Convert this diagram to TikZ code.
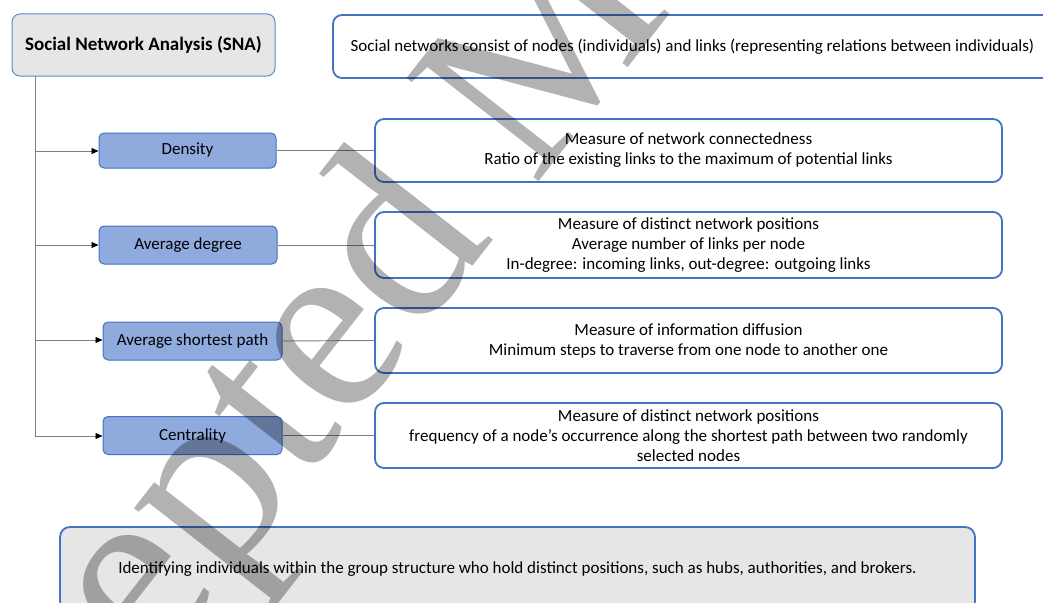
\documentclass[tikz,border=0pt]{standalone}
\usepackage{fontspec}
\setmainfont{Carlito}
\newfontfamily\wmfont{Liberation Serif}
\usetikzlibrary{arrows.meta}
\definecolor{bordblue}{HTML}{4472C4}
\definecolor{lightfill}{HTML}{E7E6E6}
\definecolor{midblue}{HTML}{8FAADC}
\definecolor{linegray}{HTML}{7F7F7F}
\tikzset{
  titlebox/.style={draw=bordblue!85, line width=1pt, fill=lightfill, rounded corners=8pt, font=\fontsize{19}{22}\selectfont\bfseries, inner sep=0pt},
  descbox/.style={draw=bordblue, line width=1.8pt, fill=white, rounded corners=9pt, font=\fontsize{17}{20}\selectfont, align=center, inner sep=0pt},
  metricbox/.style={draw=bordblue, line width=1pt, fill=midblue, rounded corners=5pt, font=\fontsize{17}{20}\selectfont, inner sep=0pt},
  notebox/.style={draw=bordblue, line width=1.8pt, fill=lightfill, rounded corners=10pt, font=\fontsize{17}{20}\selectfont, inner sep=0pt},
  link/.style={draw=linegray, line width=0.9pt},
  arrowlink/.style={link, -{Triangle[length=7pt,width=6pt,fill=black,color=black]}},
}
\begin{document}
\begin{tikzpicture}[x=1pt,y=-1pt]
\useasboundingbox (0,0) rectangle (1043,602);
\begin{scope}
\clip (0,0) rectangle (1043,602);
% title and top description
\node[titlebox, minimum width=263pt, minimum height=62pt] (sna) at (143.5,45) {Social Network Analysis (SNA)};
\node[descbox, minimum width=719pt, minimum height=63pt] (intro) at (692.5,46.5) {Social networks consist of nodes (individuals) and links (representing relations between individuals)};
% metric nodes
\node[metricbox, minimum width=177pt, minimum height=35pt] (dens) at (187.5,150.5) {Density};
\node[metricbox, minimum width=178pt, minimum height=38pt] (deg) at (188,245) {Average degree};
\node[metricbox, minimum width=179pt, minimum height=38pt] (asp) at (192.5,341) {Average shortest path};
\node[metricbox, minimum width=179pt, minimum height=38pt] (cent) at (192.5,435.5) {Centrality};
% descriptions
\node[descbox, minimum width=627pt, minimum height=63pt] (ddens) at (688.5,150.5) {Measure of network connectedness\\Ratio of the existing links to the maximum of potential links};
\node[descbox, minimum width=627pt, minimum height=66pt] (ddeg) at (688.5,245) {Measure of distinct network positions\\Average number of links per node\\In-degree: incoming links, out-degree: outgoing links};
\node[descbox, minimum width=627pt, minimum height=65pt] (dasp) at (688.5,340.5) {Measure of information diffusion\\Minimum steps to traverse from one node to another one};
\node[descbox, minimum width=627pt, minimum height=65pt] (dcent) at (688.5,435.5) {Measure of distinct network positions\\frequency of a node's occurrence along the shortest path between two randomly\\selected nodes};
% bottom note
\node[notebox, minimum width=915pt, minimum height=84pt] (note) at (517.5,569) {Identifying individuals within the group structure who hold distinct positions, such as hubs, authorities, and brokers.};
% trunk
\coordinate (t0) at (35,76);
\coordinate (t1) at (35,151);
\coordinate (t2) at (35,245);
\coordinate (t3) at (35,340);
\coordinate (t4) at (35,436);
\draw[link] (t0) -- (t4);
\draw[arrowlink] (t1) -- (dens.west |- t1);
\draw[arrowlink] (t2) -- (deg.west |- t2);
\draw[arrowlink] (t3) -- (asp.west |- t3);
\draw[arrowlink] (t4) -- (cent.west |- t4);
\draw[link] (dens.east) -- (ddens.west);
\draw[link] (deg.east) -- (ddeg.west);
\draw[link] (asp.east) -- (dasp.west);
\draw[link] (cent.east) -- (dcent.west);
% watermark
\begin{scope}[blend mode=multiply]
\node[font=\fontsize{256}{256}\selectfont\wmfont, text=black!30, rotate=52, anchor=base west, inner sep=0pt] (wm) at (-100,1000) {Accepted Manuscript};
\end{scope}
\end{scope}
\end{tikzpicture}
\end{document}
